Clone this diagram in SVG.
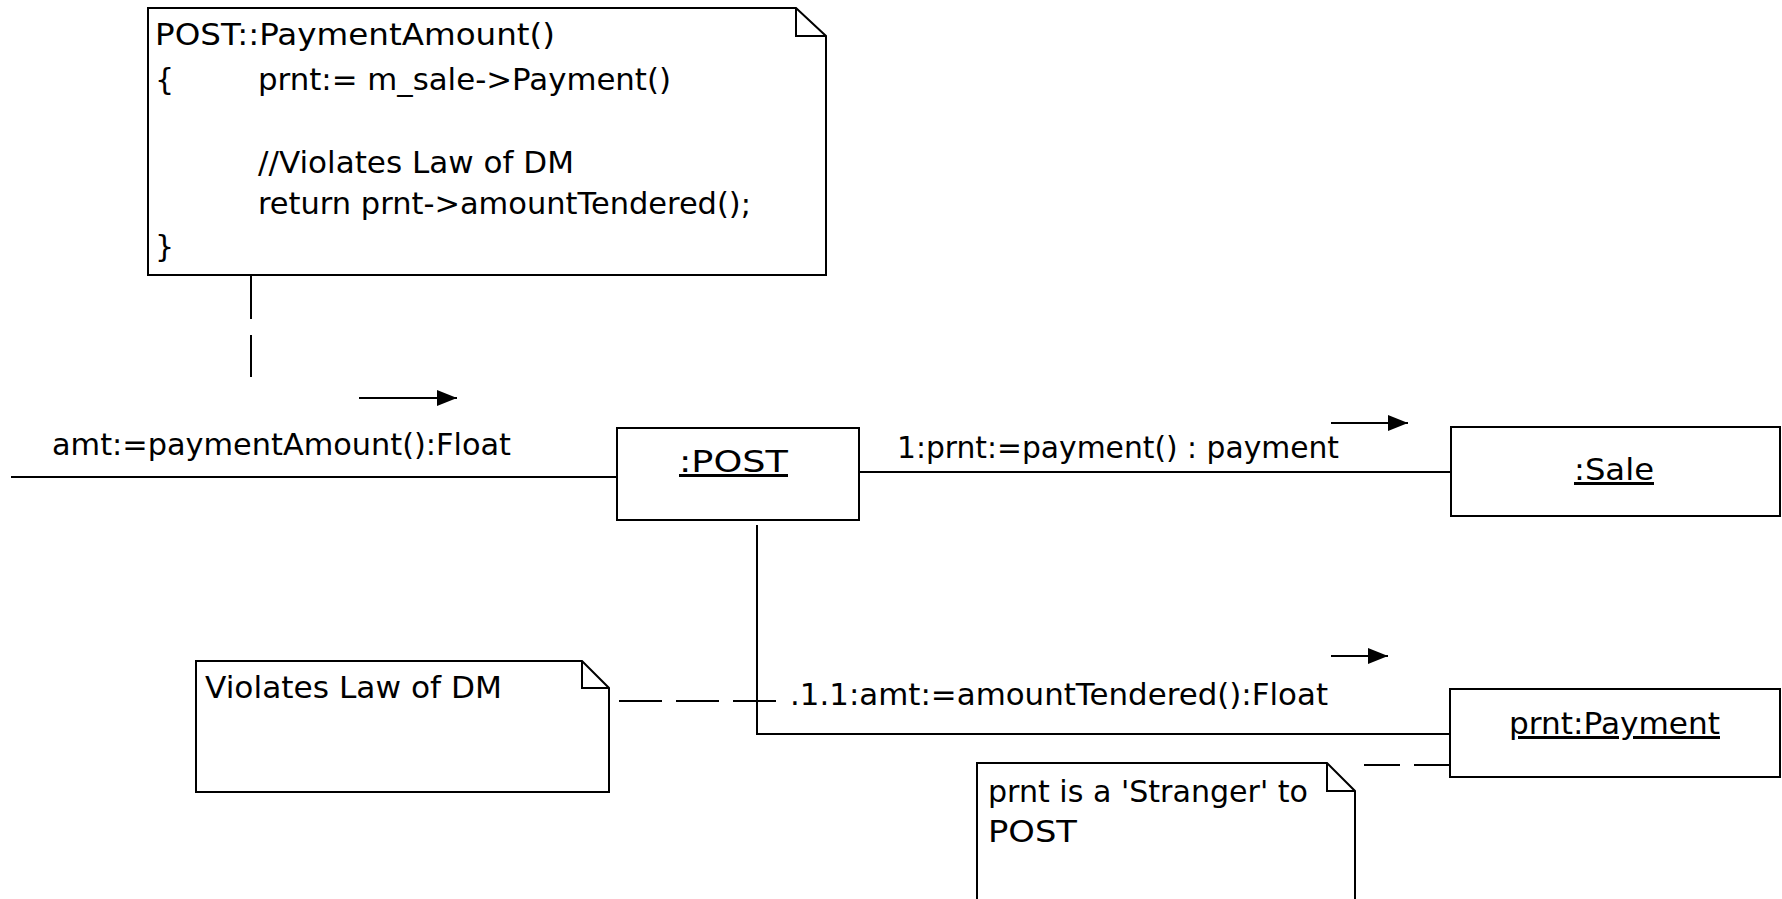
<svg xmlns="http://www.w3.org/2000/svg" width="1782" height="899" viewBox="0 0 1782 899">
  <style>
    .t { font-family: "DejaVu Sans", "Liberation Sans", sans-serif; font-size: 30px; fill: #000; }
    .u { text-decoration: underline; }
    .box { fill: #fff; stroke: #000; stroke-width: 2; }
    .ln { fill: none; stroke: #000; stroke-width: 2; }
    .dash { fill: none; stroke: #000; stroke-width: 2; }
  </style>
  <defs>
    <marker id="ah" viewBox="0 0 20 16" refX="20" refY="8" markerWidth="20" markerHeight="16" markerUnits="userSpaceOnUse" orient="auto">
      <path d="M0,0 L20,8 L0,16 Z" fill="#000"/>
    </marker>
  </defs>
  <rect width="1782" height="899" fill="#fff"/>

  <g id="connectors">
    <line class="ln" x1="11" y1="477" x2="617" y2="477"/>
    <line class="ln" x1="859" y1="472" x2="1451" y2="472"/>
    <polyline class="ln" points="757,525 757,734 1450,734"/>
    <line class="dash" x1="251" y1="275" x2="251" y2="377" stroke-dasharray="44 16"/>
    <line class="dash" x1="619" y1="701" x2="776" y2="701" stroke-dasharray="43 14"/>
    <line class="dash" x1="1364" y1="765" x2="1450" y2="765" stroke-dasharray="36 14"/>
    <line class="ln" x1="359" y1="398" x2="457" y2="398" marker-end="url(#ah)"/>
    <line class="ln" x1="1331" y1="423" x2="1408" y2="423" marker-end="url(#ah)"/>
    <line class="ln" x1="1331" y1="656" x2="1388" y2="656" marker-end="url(#ah)"/>
    <text class="t" x="52" y="455" textLength="459" lengthAdjust="spacingAndGlyphs">amt:=paymentAmount():Float</text>
    <text class="t" x="897" y="458" textLength="442" lengthAdjust="spacingAndGlyphs">1:prnt:=payment() : payment</text>
    <text class="t" x="790" y="705" textLength="538" lengthAdjust="spacingAndGlyphs">.1.1:amt:=amountTendered():Float</text>
  </g>

  <g id="note-code">
    <path class="box" d="M148,8 H796 L826,36 V275 H148 Z"/>
    <path class="ln" d="M796,8 V36 H826"/>
    <text class="t" x="155" y="45" textLength="400" lengthAdjust="spacingAndGlyphs">POST::PaymentAmount()</text>
    <text class="t" x="155" y="90">{</text>
    <text class="t" x="258" y="90" textLength="413" lengthAdjust="spacingAndGlyphs">prnt:= m_sale-&gt;Payment()</text>
    <text class="t" x="258" y="173" textLength="316" lengthAdjust="spacingAndGlyphs">//Violates Law of DM</text>
    <text class="t" x="258" y="214" textLength="493" lengthAdjust="spacingAndGlyphs">return prnt-&gt;amountTendered();</text>
    <text class="t" x="155" y="257">}</text>
  </g>

  <g id="post">
    <rect class="box" x="617" y="428" width="242" height="92"/>
    <text class="t u" x="679" y="472" textLength="109" lengthAdjust="spacingAndGlyphs">:POST</text>
  </g>

  <g id="sale">
    <rect class="box" x="1451" y="427" width="329" height="89"/>
    <text class="t u" x="1574" y="480" textLength="80" lengthAdjust="spacingAndGlyphs">:Sale</text>
  </g>

  <g id="payment">
    <rect class="box" x="1450" y="689" width="330" height="88"/>
    <text class="t u" x="1509" y="734" textLength="211" lengthAdjust="spacingAndGlyphs">prnt:Payment</text>
  </g>

  <g id="note-violates">
    <path class="box" d="M196,661 H582 L609,688 V792 H196 Z"/>
    <path class="ln" d="M582,661 V688 H609"/>
    <text class="t" x="205" y="698" textLength="297" lengthAdjust="spacingAndGlyphs">Violates Law of DM</text>
  </g>

  <g id="note-stranger">
    <path class="box" d="M977,763 H1327 L1355,791 V905 H977 Z"/>
    <path class="ln" d="M1327,763 V791 H1355"/>
    <text class="t" x="988" y="802" textLength="320" lengthAdjust="spacingAndGlyphs">prnt is a 'Stranger' to</text>
    <text class="t" x="988" y="842" textLength="89" lengthAdjust="spacingAndGlyphs">POST</text>
  </g>
</svg>
